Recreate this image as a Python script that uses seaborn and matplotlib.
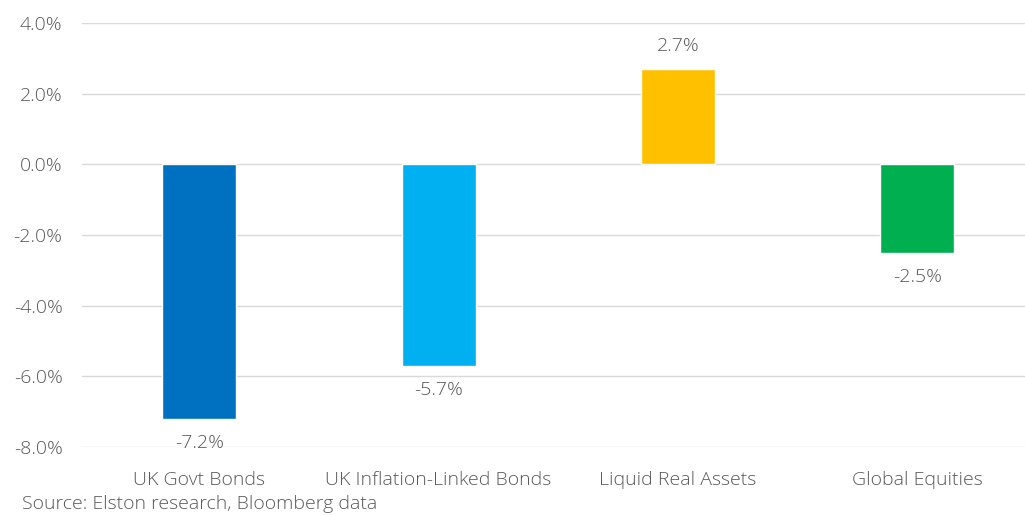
import matplotlib
matplotlib.use("Agg")
import matplotlib.pyplot as plt
import seaborn as sns
import pandas as pd
from matplotlib.ticker import FuncFormatter

categories = ["UK Govt Bonds", "UK Inflation-Linked Bonds", "Liquid Real Assets", "Global Equities"]
values = [-7.2, -5.7, 2.7, -2.5]
colors = ["#0070C0", "#00B0F0", "#FFC000", "#00B050"]
yticks = [-8, -6, -4, -2, 0, 2, 4]

sns.set_theme(style="white")
plt.rcParams['font.family'] = ['Open Sans', 'DejaVu Sans']
plt.rcParams['font.weight'] = 'light'

df = pd.DataFrame({"cat": categories, "val": values})
fig = plt.figure(figsize=(10.25, 5.15), dpi=100)
ax = fig.add_axes([0.08, 0.132, 0.92, 0.823])
sns.barplot(data=df, x="cat", y="val", hue="cat", palette=colors, width=0.31,
            legend=False, ax=ax, saturation=1)

ax.set_ylim(-8, 4)
ax.set_xlim(-0.49, 3.45)
ax.set_yticks(yticks)
ax.yaxis.set_major_formatter(FuncFormatter(lambda v, p: f"{v:.1f}%"))
ax.grid(axis="y", color="#D9D9D9", linewidth=1)
ax.set_axisbelow(True)
for s in ax.spines.values():
    s.set_visible(False)
ax.set_xlabel("")
ax.set_ylabel("")
tc = "#595959"
fs = 14
ax.tick_params(axis="y", labelsize=fs, colors=tc, length=0, pad=14)
ax.tick_params(axis="x", labelsize=fs, colors=tc, length=0, pad=17)

for i, v in enumerate(values):
    if v >= 0:
        ax.annotate(f"{v:.1f}%", (i, v), xytext=(0, 10), textcoords="offset points",
                    ha="center", va="bottom", fontsize=fs, color=tc)
    else:
        ax.annotate(f"{v:.1f}%", (i, v), xytext=(0, -11), textcoords="offset points",
                    ha="center", va="top", fontsize=fs, color=tc)

fig.text(0.021, 0.003, "Source: Elston research, Bloomberg data", fontsize=fs, color=tc,
         ha="left", va="bottom")
fig.savefig("out.png", dpi=100)
